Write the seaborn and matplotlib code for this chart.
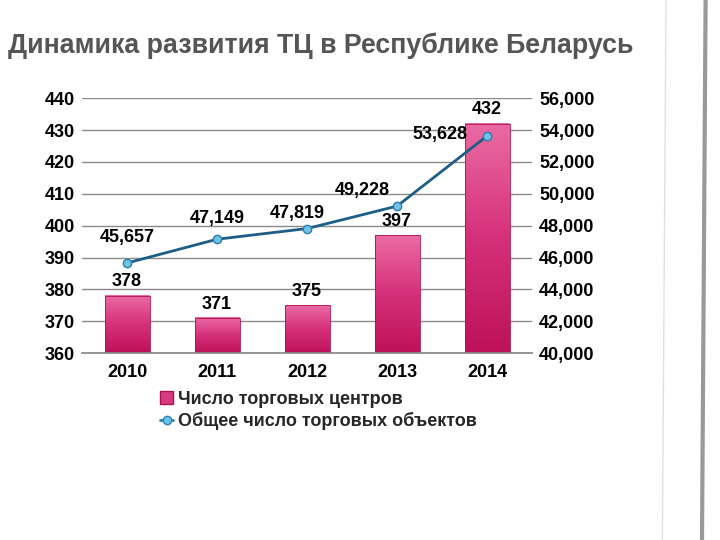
import matplotlib
matplotlib.use("Agg")
import matplotlib.pyplot as plt
import seaborn as sns
import numpy as np
import pandas as pd
from matplotlib.lines import Line2D
from matplotlib.patches import Patch
from matplotlib.colors import LinearSegmentedColormap

years = ["2010", "2011", "2012", "2013", "2014"]
centers = [378, 371, 375, 397, 432]
objects = [45657, 47149, 47819, 49228, 53628]
left_ticks = [360, 370, 380, 390, 400, 410, 420, 430, 440]
right_ticks = [40000, 42000, 44000, 46000, 48000, 50000, 52000, 54000, 56000]
title = "Динамика развития ТЦ в Республике Беларусь"
legend_labels = ["Число торговых центров", "Общее число торговых объектов"]

sns.set_theme(style="white")
plt.rcParams['font.family'] = ['Liberation Sans', 'DejaVu Sans']

df = pd.DataFrame({"year": years, "centers": centers, "objects": objects})

fig = plt.figure(figsize=(7.2, 5.4), dpi=100)
fig.patch.set_facecolor("white")

# decorative faint stripes on right
fig.add_artist(Line2D([0.980, 0.975], [1.0, 0.0], transform=fig.transFigure, color="#555555", lw=3, alpha=0.6))
fig.add_artist(Line2D([0.925, 0.92], [1.0, 0.0], transform=fig.transFigure, color="#cccccc", lw=1, alpha=0.6))

ax = fig.add_axes([0.114, 0.346, 0.625, 0.4722])
sns.barplot(data=df, x="year", y="centers", ax=ax, color="#d63c80", width=0.5, saturation=1, zorder=2)
ymin, ymax = 360, 440
ax.set_ylim(ymin, ymax)
ax.set_yticks(left_ticks)
ax.set_xlim(-0.5, 4.5)

# gradient fill on bars (visible portion only)
grad = np.linspace(0, 1, 256).reshape(-1, 1)
cmap = LinearSegmentedColormap.from_list("pk", ["#bd1259", "#d6307a", "#ea6ba3"])
for p in ax.patches:
    x0 = p.get_x()
    w, h = p.get_width(), p.get_height()
    top = p.get_y() + h
    im = ax.imshow(grad, extent=[x0, x0 + w, ymin, top], origin="lower", cmap=cmap,
                   aspect="auto", zorder=2.1)
    p.set_facecolor("none")
    p.set_edgecolor("#b01050")
    p.set_linewidth(0.6)
    p.set_zorder(2.2)
ax.set_xlim(-0.5, 4.5)
ax.set_ylim(ymin, ymax)

for i, v in enumerate(centers):
    ax.annotate(f"{v}", (i, v), xytext=(0, 4), textcoords="offset points", ha="center", va="bottom",
                fontsize=13, fontweight="bold", color="black", zorder=6)

ax.grid(axis="y", color="#8a8a8a", lw=1, zorder=0)
ax.set_axisbelow(True)
for s in ["top", "right", "left"]:
    ax.spines[s].set_visible(False)
ax.spines["bottom"].set_color("#8a8a8a")
ax.set_xlabel("")
ax.set_ylabel("")
ax.tick_params(axis="x", labelsize=13, length=0, pad=8)
ax.tick_params(axis="y", labelsize=13, length=0, pad=5)
for t in ax.get_xticklabels() + ax.get_yticklabels():
    t.set_fontweight("bold")
    t.set_color("black")

ax2 = ax.twinx()
sns.lineplot(data=df, x="year", y="objects", ax=ax2, color="#1d5e86", lw=2, marker="o", markersize=6,
             markerfacecolor="#6cc3e6", markeredgecolor="#2a80b0", markeredgewidth=1, zorder=5)
ax2.set_ylim(40000, 56000)
ax2.set_yticks(right_ticks)
ax2.set_yticklabels([f"{v:,}" for v in right_ticks])
for s in ["top", "right", "left", "bottom"]:
    ax2.spines[s].set_visible(False)
ax2.set_ylabel("")
ax2.set_xlabel("")
ax2.tick_params(axis="y", labelsize=13, length=0, pad=5)
for t in ax2.get_yticklabels():
    t.set_fontweight("bold")
    t.set_color("black")

offsets = [(0, 26), (0, 21), (-10, 15), (-35, 16), (-47, 1)]
for i, v in enumerate(objects):
    ax2.annotate(f"{v:,}", (i, v), xytext=offsets[i], textcoords="offset pixels", ha="center", va="center",
                 fontsize=13, fontweight="bold", color="black", zorder=6)

handles = [Patch(facecolor="#d63c80", edgecolor="#b01050"),
           Line2D([0], [0], color="#2a80b0", lw=2, marker="o", markersize=6,
                  markerfacecolor="#6cc3e6", markeredgecolor="#2a80b0")]
leg = fig.legend(handles, legend_labels, loc="upper left", bbox_to_anchor=(0.205, 0.3),
                 frameon=False, handlelength=0.7, handletextpad=0.3, labelspacing=0.25,
                 borderpad=0.2, prop={"weight": "bold", "size": 13})

fig.text(0.011, 0.915, title, fontsize=19.3, fontweight="bold", color="#555555", ha="left", va="center",
         family=["Liberation Sans Narrow", "Liberation Sans", "DejaVu Sans"])

fig.savefig("out.png", dpi=100, facecolor="white")
